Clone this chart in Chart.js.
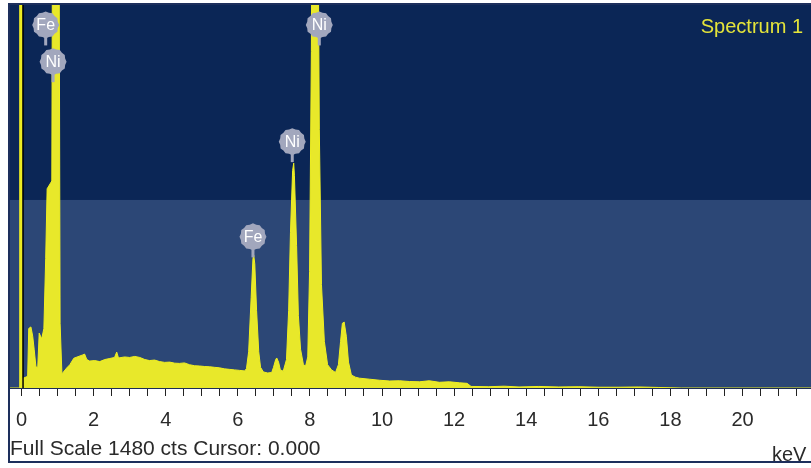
<!DOCTYPE html>
<html><head><meta charset="utf-8">
<script src="https://cdn.jsdelivr.net/npm/chart.js@4"></script>
<style>html,body{margin:0;padding:0;background:#fff;overflow:hidden}#wrap{width:811px;height:468px;position:relative}</style>
</head><body><div id="wrap"><canvas id="c" width="811" height="468"></canvas></div>
<script>
// ---- data ----
const energyKeV = [
 -0.32,-0.06,-0.05, 0.00, 0.01, 0.05, 0.17, 0.20, 0.26, 0.31,
  0.35, 0.40, 0.45, 0.49, 0.56, 0.62, 0.67, 0.71, 0.84, 0.87,
  1.03, 1.07, 1.12, 1.14, 1.25, 1.34, 1.45, 1.70, 1.75, 1.81,
  1.89, 2.03, 2.17, 2.31, 2.45, 2.58, 2.64, 2.69, 2.86, 3.00,
  3.14, 3.28, 3.42, 3.55, 3.69, 3.83, 3.97, 4.11, 4.25, 4.38,
  4.52, 4.66, 4.80, 4.94, 5.08, 5.22, 5.35, 5.49, 5.63, 5.77,
  5.91, 6.05, 6.19, 6.24, 6.30, 6.37, 6.42, 6.44, 6.47, 6.52,
  6.58, 6.63, 6.71, 6.83, 6.94, 6.99, 7.05, 7.08, 7.13, 7.18,
  7.26, 7.35, 7.41, 7.46, 7.52, 7.55, 7.57, 7.63, 7.68, 7.74,
  7.82, 7.88, 7.94, 7.99, 8.04, 8.07, 8.21, 8.26, 8.32, 8.40,
  8.49, 8.60, 8.71, 8.79, 8.85, 8.90, 8.95, 9.01, 9.07, 9.15,
  9.26, 9.37, 9.65, 9.93,10.21,10.49,10.76,11.04,11.31,11.59,
 11.87,12.15,12.36,12.47,12.96,13.39,13.80,14.35,14.90,15.46,
 16.02,16.57,17.12,17.68,18.30,21.90
];
const countsCts = [
     0,    0, 2000, 2000,   40,   38,   45,  230,  236,  200,
   150,   81,   80,  212,  190,  230,  500,  770,  800, 2400,
  2400,  250,   55,   58,   77,   90,  115,  128,  131,  110,
   104,  106,  102,  110,  114,  118,  139,  116,  120,  118,
   122,  118,  110,  106,  108,  102,   99,  100,   96,   95,
    97,   90,   86,   85,   83,   82,   80,   78,   74,   72,
    70,   68,   66,   75,  140,  350,  500,  514,  480,  300,
   140,   80,   62,   58,   60,   80,  110,  116,  100,   70,
    65,  110,  300,  600,  840,  869,  820,  550,  280,  150,
    90,   85,  120,  450, 1300, 2200, 2200, 1000,  400,  180,
    90,   70,   60,   90,  180,  250,  255,  200,  100,   50,
    42,   38,   34,   30,   27,   28,   25,   24,   28,   22,
    24,   20,   18,    6,    5,    7,    4,    6,    4,    5,
     3,    3,    4,    2,    0,    0
];
const tickLabelsKeV = [0, 2, 4, 6, 8, 10, 12, 14, 16, 18, 20];
const peakLabels   = ['Fe', 'Ni', 'Ni', 'Ni', 'Fe'];
const peakLabelKeV = [0.67, 0.875, 8.26, 7.51, 6.42];
const peakLabelCts = [1403, 1261, 1403, 952, 584];
const fullScaleCts = 1480;
const cursorKeV = 0.000;
const spectrumName = 'Spectrum 1';
const xMinKeV = -0.32, xMaxKeV = 21.9;

const points = energyKeV.map((e, i) => ({x: e, y: countsCts[i]}));

const FONT = "'Liberation Sans', Arial, sans-serif";

const decor = {
  id: 'decor',
  beforeDraw(chart) {
    const {ctx, chartArea: a} = chart;
    ctx.save();
    ctx.fillStyle = '#ffffff';
    ctx.fillRect(0, 0, chart.width, chart.height);
    ctx.fillStyle = '#0b2656';
    ctx.fillRect(a.left, a.top, a.right - a.left, a.bottom - a.top);
    const split = a.top + (a.bottom - a.top) * 0.509;
    ctx.fillStyle = '#2c4776';
    ctx.fillRect(a.left, split, a.right - a.left, a.bottom - split);
    ctx.restore();
  },
  afterDatasetsDraw(chart) {
    const {ctx, chartArea: a, scales: {x, y}} = chart;
    ctx.save();
    // cursor
    const cx = x.getPixelForValue(cursorKeV) + 1.5;
    ctx.strokeStyle = '#000000';
    ctx.lineWidth = 1.5;
    ctx.beginPath(); ctx.moveTo(cx, a.top); ctx.lineTo(cx, a.bottom); ctx.stroke();
    // peak badges
    peakLabels.forEach((t, i) => {
      const px = x.getPixelForValue(peakLabelKeV[i]);
      const py = y.getPixelForValue(peakLabelCts[i]);
      const r = 12.5;
      ctx.fillStyle = '#a2a7bd';
      ctx.fillRect(px - 1.5, py, 3, r + 8);
      ctx.beginPath();
      const n = 24;
      for (let k = 0; k <= n; k++) {
        const ang = k / n * Math.PI * 2;
        const rr = (k % 2 === 0) ? r + 1 : r;
        const qx = px + rr * Math.cos(ang), qy = py + rr * Math.sin(ang);
        if (k === 0) ctx.moveTo(qx, qy); else ctx.lineTo(qx, qy);
      }
      ctx.closePath();
      ctx.fill();
      ctx.fillStyle = '#ffffff';
      ctx.font = '16px ' + FONT;
      ctx.textAlign = 'center';
      ctx.textBaseline = 'middle';
      ctx.fillText(t, px, py + 1);
    });
    ctx.restore();
  },
  afterDraw(chart) {
    const {ctx} = chart;
    ctx.save();
    ctx.fillStyle = '#e4e43a';
    ctx.font = '20px ' + FONT;
    ctx.textAlign = 'right';
    ctx.textBaseline = 'alphabetic';
    ctx.fillText(spectrumName, 803, 33);
    ctx.fillStyle = '#2a2a2a';
    ctx.textAlign = 'left';
    ctx.font = '21px ' + FONT;
    ctx.fillText('Full Scale ' + fullScaleCts + ' cts Cursor: ' + cursorKeV.toFixed(3), 10, 455, 318);
    ctx.font = '20px ' + FONT;
    ctx.fillText('keV', 772, 461);
    ctx.strokeStyle = '#1d2f5c';
    ctx.lineWidth = 2;
    ctx.strokeRect(9, 4, 820, 458);
    ctx.restore();
  }
};

new Chart(document.getElementById('c'), {
  type: 'line',
  data: {
    datasets: [{
      data: points,
      borderColor: '#f0f020',
      backgroundColor: '#e8e82a',
      borderWidth: 1,
      pointRadius: 0,
      fill: 'origin',
      tension: 0
    }]
  },
  options: {
    responsive: false,
    animation: false,
    devicePixelRatio: 1,
    layout: {padding: {left: 10, top: 5, right: 0, bottom: 0}},
    plugins: {legend: {display: false}, tooltip: {enabled: false}},
    scales: {
      x: {
        type: 'linear',
        min: xMinKeV, max: xMaxKeV,
        afterFit(s) { s.height = 80; },
        grid: {drawOnChartArea: false, drawTicks: true, tickLength: 8, color: '#222222', lineWidth: 1},
        border: {display: true, color: '#1d2d55', width: 1},
        ticks: {
          stepSize: 0.5, includeBounds: false, autoSkip: false, maxRotation: 0,
          padding: 12, color: '#2a2a2a',
          font: {family: FONT, size: 20},
          callback: v => tickLabelsKeV.some(t => Math.abs(t - v) < 1e-6) ? String(Math.round(v)) : ''
        }
      },
      y: {min: 0, max: fullScaleCts, display: false}
    }
  },
  plugins: [decor]
});
</script></body></html>
